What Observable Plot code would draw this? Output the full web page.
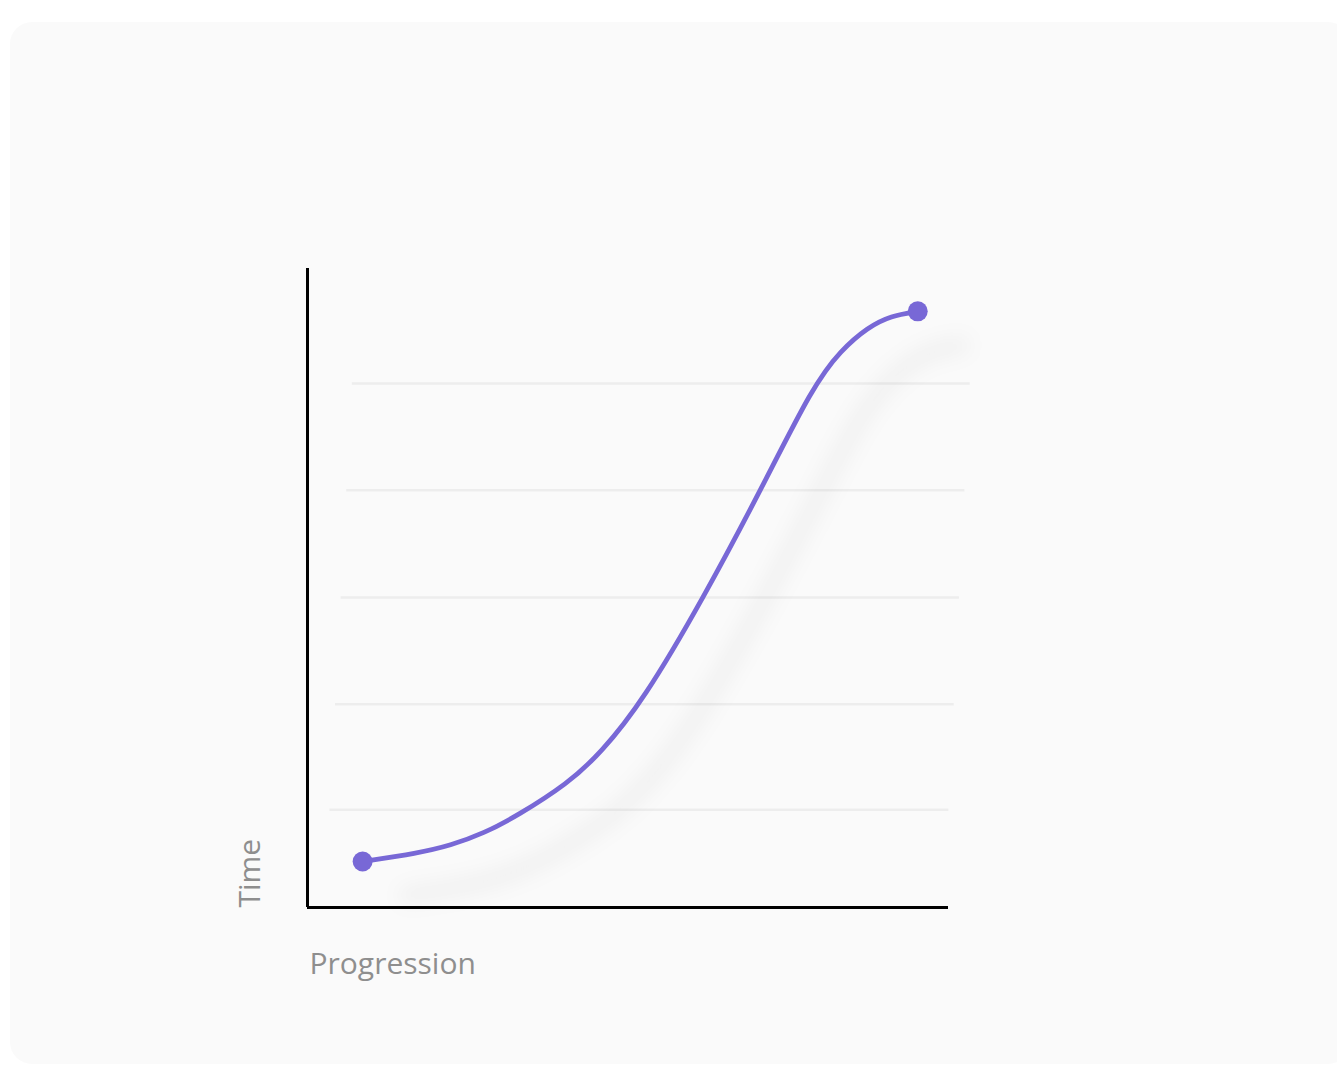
<!DOCTYPE html>
<html>
<head>
<meta charset="utf-8">
<script src="https://cdn.jsdelivr.net/npm/d3@7"></script>
<script src="https://cdn.jsdelivr.net/npm/@observablehq/plot@0.6"></script>
<style>
  html, body { margin: 0; padding: 0; background: #ffffff; }
  #card {
    position: absolute; left: 10px; top: 22px; width: 1340px; height: 1042px;
    background: #fafafa; border-radius: 22px;
  }
  #chart { position: absolute; left: 0; top: 0; }
</style>
</head>
<body>
<div id="card"></div>
<div id="chart"></div>
<script>
// Curve values (Progression vs Time)
const progression = [8.6, 17.2, 22.3, 27.5, 32.8, 40.6, 45.7, 52.4, 61.8, 70.7, 78.9, 83.2, 87.4, 91.0, 95.2];
const time        = [7.2,  8.5,  9.7, 11.6, 14.4, 19.4, 24.1, 32.4, 48.5, 65.3, 81.7, 87.2, 90.8, 92.6, 93.3];
// Gridline levels
const gridLevels = [15.3, 31.8, 48.5, 65.3, 82.0];
const xLabel = "Progression";
const yLabel = "Time";

const curveData = progression.map((p, i) => ({p, t: time[i]}));
const endpoints = [curveData[0], curveData[curveData.length - 1]];

const purple = "#7868d6";
// slight skew of gridlines (styling)
const gx1 = v => 2.7 + v * 0.0524;
const gx2 = v => 99.3 + v * 0.0497;

const chart = Plot.plot({
  width: 1337,
  height: 1066,
  marginLeft: 307,
  marginRight: 389,
  marginTop: 268,
  marginBottom: 159,
  style: {background: "transparent", overflow: "visible"},
  x: {domain: [0, 100], axis: null},
  y: {domain: [0, 100], axis: null},
  marks: [
    Plot.ruleY(gridLevels, {y: d => d, x1: gx1, x2: gx2, stroke: "#ededed", strokeWidth: 2.5}),
    Plot.line(curveData, {x: "p", y: "t", curve: "basis", stroke: "#000", strokeOpacity: 0.045,
      strokeWidth: 16, dx: 44, dy: 34}),
    Plot.ruleX([0], {y1: 0, y2: 100, stroke: "#000", strokeWidth: 3}),
    Plot.ruleY([0], {x1: 0, x2: 100, stroke: "#000", strokeWidth: 3}),
    Plot.line(curveData, {x: "p", y: "t", curve: "basis", stroke: purple, strokeWidth: 4.8}),
    Plot.dot(endpoints, {x: "p", y: "t", r: 10, fill: purple}),
    Plot.text([xLabel], {frameAnchor: "bottom-left", dx: 2, dy: 57, textAnchor: "start", lineAnchor: "middle",
      fontSize: 30, fill: "#8e8e8e", fontFamily: "'Open Sans', sans-serif"}),
    Plot.text([yLabel], {frameAnchor: "bottom-left", dx: -57, dy: 0, rotate: -90, textAnchor: "start", lineAnchor: "middle",
      fontSize: 30, fill: "#8e8e8e", fontFamily: "'Open Sans', sans-serif"})
  ]
});
document.getElementById("chart").appendChild(chart);
// soft blur for the shadow line
const ns = "http://www.w3.org/2000/svg";
const defs = document.createElementNS(ns, "defs");
defs.innerHTML = '<filter id="shadowBlur" x="-20%" y="-20%" width="140%" height="140%"><feGaussianBlur stdDeviation="10"/></filter>';
chart.insertBefore(defs, chart.firstChild);
const sh = [...chart.querySelectorAll("g")].find(g => g.getAttribute("stroke-opacity") === "0.045");
if (sh) sh.setAttribute("filter", "url(#shadowBlur)");
</script>
</body>
</html>
